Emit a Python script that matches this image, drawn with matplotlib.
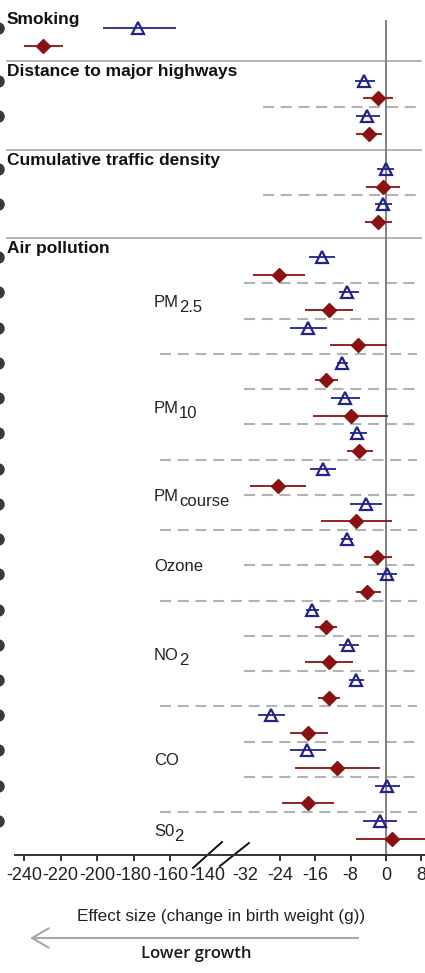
import numpy as np
import matplotlib.pyplot as plt
from matplotlib.transforms import blended_transform_factory

plt.rcParams['font.family'] = ['Liberation Sans', 'DejaVu Sans']

# sections and how many estimate pairs each holds
sections = ['Smoking', 'Distance to major highways', 'Cumulative traffic density', 'Air pollution']
pairs_per_section = [1, 2, 2, 17]

# pollutant groups inside "Air pollution"
pollutants = ['PM', 'PM', 'PM', 'Ozone', 'NO', 'CO', 'S0']
pollutant_subs = ['2.5', '10', 'course', '', '2', '', '2']
pairs_per_pollutant = [3, 3, 2, 2, 3, 3, 1]

# blue triangles (first estimate of each pair)
blue_est = [-177.7, -5.0, -4.2, 0.0, -0.6,
            -14.6, -8.8, -17.8, -10.0, -9.2, -6.6, -14.3, -4.6, -8.8, 0.3,
            -16.8, -8.6, -6.9, -26.1, -17.9, 0.2, -1.4]
blue_lo = [-196.8, -7.1, -6.9, -2.0, -2.5,
           -17.5, -10.7, -21.8, -11.2, -12.4, -8.2, -17.2, -8.1, -10.1, -2.0,
           -18.1, -10.7, -8.4, -29.0, -21.7, -2.5, -5.2]
blue_hi = [-157.0, -2.5, -1.4, 1.8, 1.5,
           -11.5, -6.2, -13.4, -8.7, -5.8, -4.2, -11.3, -0.8, -7.5, 2.6,
           -15.3, -6.2, -5.0, -22.9, -13.7, 3.2, 2.6]

# red diamonds (second estimate of each pair)
red_est = [-229.6, -1.8, -3.8, -0.6, -1.8,
           -24.4, -13.0, -6.3, -13.7, -8.0, -6.1, -24.6, -6.7, -2.0, -4.2,
           -13.7, -13.0, -13.0, -17.6, -11.1, -17.6, 1.3]
red_lo = [-240.0, -5.2, -6.7, -4.6, -4.8,
          -30.3, -18.4, -12.6, -16.2, -16.5, -8.8, -30.9, -14.7, -5.0, -6.9,
          -16.0, -18.4, -15.5, -21.9, -20.6, -23.5, -6.7]
red_hi = [-218.5, 1.7, -0.8, 3.3, 1.5,
          -18.4, -7.5, 0.2, -10.9, 0.4, -2.9, -18.1, 1.5, 1.5, -1.0,
          -11.1, -7.5, -10.4, -13.2, -1.4, -11.7, 9.5]

tick_vals = [-240, -220, -200, -180, -160, -140, -32, -24, -16, -8, 0, 8]
tick_text = ['-240', '-220', '-200', '-180', '-160', '-140', '-32', '-24', '-16', '-8', '0', '8']

BLUE = '#22228a'
RED = '#8a1212'
GRAY = '#b3b3b3'

# broken axis: two linear pieces joined by an almost-zero gap
knots_x = [-1000, -130, -36, 100]
knots_p = [24 + (-1000 + 240) * 1.83, 24 + 110 * 1.83, 386 - 36 * 4.4, 386 + 100 * 4.4]


def fwd(x):
    return np.interp(x, knots_x, knots_p)


def inv(p):
    return np.interp(p, knots_p, knots_x)


fig = plt.figure(figsize=(4.25, 9.73), dpi=100)
ax = fig.add_axes([0, 118 / 973, 1, 835 / 973])
ax.set_xscale('function', functions=(fwd, inv))
ax.set_xlim(-253.1, 8.9)
ax.set_ylim(33.93, -13.45)

# row layout
starts = []
s = -13
for n in pairs_per_section:
    starts.append(s)
    s += 2 * n + 1
pair_y = []
for st, n in zip(starts, pairs_per_section):
    pair_y += [st + 2 * k for k in range(n)]
pair_y = np.array(pair_y, dtype=float)

# section titles and solid separators
for i, (st, name) in enumerate(zip(starts, sections)):
    ax.text(-249.3, st - 0.5, name, fontsize=12.5, fontweight='bold',
            va='center', ha='left', color='#111', clip_on=False)
    if i > 0:
        ax.plot([-249.3, 8.0], [st - 1.1, st - 1.1], color='#a8a8a8', lw=1.2, zorder=1)

# dashed lines between pairs
dash = (0, (5.3, 3.2))
for st, n in zip(starts[1:3], pairs_per_section[1:3]):
    for k in range(n - 1):
        ax.plot([-28, 8.0], [st + 2 * k + 1.5] * 2, color=GRAY, lw=1.5, ls=dash, zorder=1)

air0 = starts[3]
g0 = air0
for gi, n in enumerate(pairs_per_pollutant):
    for k in range(n - 1):
        ax.plot([-32.2, 8.0], [g0 + 2 * k + 1.5] * 2, color=GRAY, lw=1.5, ls=dash, zorder=1)
    if gi < len(pairs_per_pollutant) - 1:
        ax.plot([-165.7, 7.1], [g0 + 2 * n - 0.5] * 2, color=GRAY, lw=1.5, ls=dash, zorder=1)
    # pollutant label with full-size subscript
    mid = g0 + n - 0.5
    t = ax.text(-169, mid + 0.34, pollutants[gi], fontsize=12, va='baseline', ha='left', color='#222')
    if pollutant_subs[gi]:
        ax.annotate(pollutant_subs[gi], xy=(1, 0), xycoords=t, xytext=(0, -3.6),
                    textcoords='offset points', fontsize=12, va='bottom', ha='left', color='#222')
    g0 += 2 * n

# zero line
ax.axvline(0, color='#808080', lw=1.4, zorder=1)

# estimates with confidence intervals
ax.hlines(pair_y, blue_lo, blue_hi, color=BLUE, lw=1.3, zorder=3)
ax.plot(blue_est, pair_y, ls='none', marker='^', ms=8, mfc='none', mec=BLUE, mew=1.6, zorder=4)
ax.hlines(pair_y + 1, red_lo, red_hi, color=RED, lw=1.3, zorder=3)
ax.plot(red_est, pair_y + 1, ls='none', marker='D', ms=7, mfc=RED, mec=RED, mew=1, zorder=4)

# cropped circles at the left edge of the figure
edge = blended_transform_factory(ax.transAxes, ax.transData)
ax.plot(np.full(len(pair_y), -2 / 425), pair_y, ls='none', marker='o', ms=8,
        color='#3a3a3a', transform=edge, clip_on=False)

# axis
for side in ['top', 'right', 'left']:
    ax.spines[side].set_visible(False)
ax.spines['bottom'].set_bounds(-244.9, 8.9)
ax.spines['bottom'].set_linewidth(1.4)
ax.spines['bottom'].set_color('#333')
ax.set_yticks([])
ax.set_xticks(tick_vals)
ax.set_xticklabels(tick_text)
ax.tick_params(axis='x', direction='out', length=4, width=1.4, color='#333',
               labelsize=13, pad=5, labelcolor='#222')
for tk in ax.xaxis.get_major_ticks()[5:7]:
    tk.tick1line.set_visible(False)

# break marks
for x0, y0, x1, y1 in [(193, 868, 222, 842), (220, 866, 249, 843)]:
    ax.plot([x0 / 425, x1 / 425], [(855 - y0) / 835, (855 - y1) / 835],
            color='#111', lw=1.4, transform=ax.transAxes, clip_on=False)

ax.text(221 / 425, (855 - 917) / 835, 'Effect size (change in birth weight (g))',
        transform=ax.transAxes, fontsize=12.3, ha='center', va='center', color='#222')

ax.annotate('', xy=(30 / 425, 1 - 938 / 973), xytext=(358 / 425, 1 - 938 / 973),
            xycoords='figure fraction', textcoords='figure fraction',
            arrowprops=dict(arrowstyle='->,head_length=1.2,head_width=0.7',
                            mutation_scale=10, color='#a8a8a8', lw=1.5, shrinkA=0, shrinkB=0))
fig.text(196 / 425, 1 - 954 / 973, 'Lower growth', family=['Open Sans', 'DejaVu Sans'],
         fontsize=12, fontweight='semibold', ha='center', va='center', color='#1a1a1a')

fig.savefig('out.png', dpi=100)
